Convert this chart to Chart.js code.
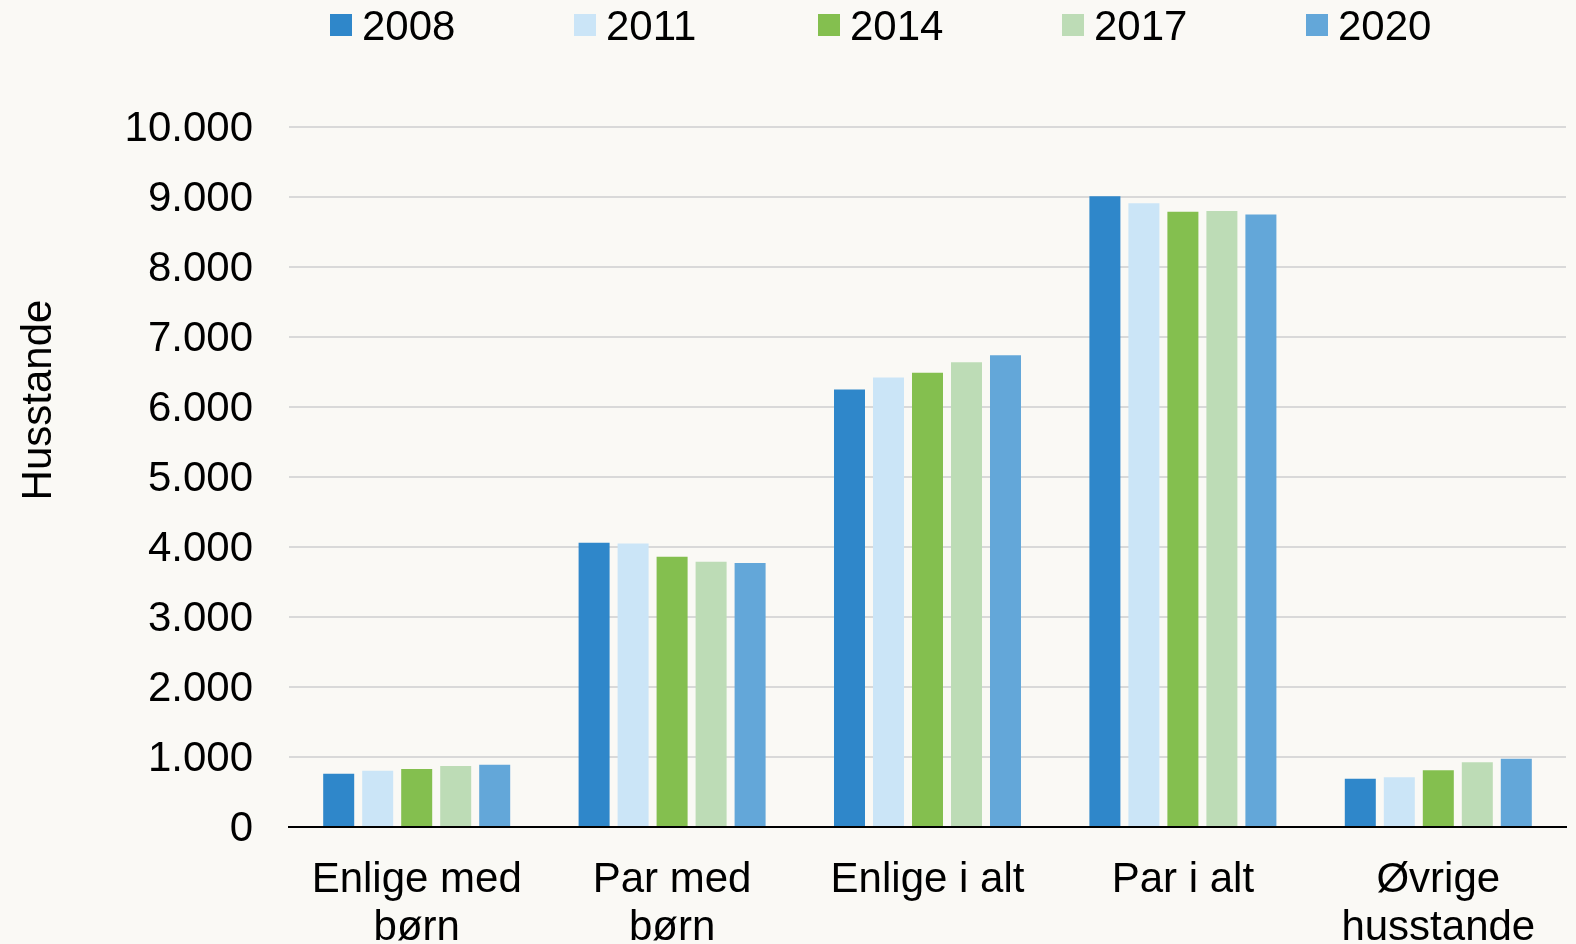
<!DOCTYPE html>
<html><head><meta charset="utf-8">
<script src="https://cdn.jsdelivr.net/npm/chart.js@4.4.1/dist/chart.umd.min.js"></script>
<style>html,body{margin:0;padding:0;background:#faf9f5;overflow:hidden}</style>
</head><body>
<canvas id="c" width="1576" height="944"></canvas>
<script>
const categories = [["Enlige med","børn"],["Par med","børn"],["Enlige i alt"],["Par i alt"],["Øvrige","husstande"]];
const seriesNames = ["2008","2011","2014","2017","2020"];
const v2008 = [760, 4060, 6250, 9010, 690];
const v2011 = [805, 4050, 6420, 8910, 710];
const v2014 = [830, 3860, 6490, 8790, 810];
const v2017 = [870, 3790, 6640, 8800, 925];
const v2020 = [890, 3770, 6740, 8750, 975];
const yTickLabels = ["0","1.000","2.000","3.000","4.000","5.000","6.000","7.000","8.000","9.000","10.000"];
const yAxisTitle = "Husstande";

const seriesValues = [v2008, v2011, v2014, v2017, v2020];
const colors = ["#2f87ca","#cbe5f7","#84bf4f","#bddcb6","#63a7d9"];
const FONT = "'Liberation Sans', Arial, sans-serif";

const bgPlugin = {
  id: 'bg',
  beforeDraw(chart) {
    const ctx = chart.ctx;
    ctx.save();
    ctx.fillStyle = '#faf9f5';
    ctx.fillRect(0, 0, chart.width, chart.height);
    ctx.restore();
  }
};

const legendAndTitlePlugin = {
  id: 'customLegend',
  afterDraw(chart) {
    const ctx = chart.ctx;
    ctx.save();
    ctx.font = "42px " + FONT;
    ctx.textBaseline = 'middle';
    ctx.textAlign = 'left';
    chart.data.datasets.forEach((ds, i) => {
      const x = 330 + i * 244;
      ctx.fillStyle = ds.backgroundColor;
      ctx.fillRect(x, 14, 22, 22);
      ctx.fillStyle = '#000';
      ctx.fillText(ds.label, x + 32, 28);
    });
    ctx.translate(39, 400);
    ctx.rotate(-Math.PI / 2);
    ctx.textAlign = 'center';
    ctx.fillText(yAxisTitle, 0, 0);
    ctx.restore();
  }
};

new Chart(document.getElementById('c'), {
  type: 'bar',
  data: {
    labels: categories,
    datasets: seriesNames.map((n, i) => ({
      label: n,
      data: seriesValues[i],
      backgroundColor: colors[i],
      borderWidth: 0,
      categoryPercentage: 0.7635,
      barPercentage: 0.795
    }))
  },
  options: {
    responsive: false,
    devicePixelRatio: 1,
    animation: false,
    layout: { padding: { top: 127, right: 10, left: 0, bottom: 0 } },
    plugins: { legend: { display: false }, tooltip: { enabled: false } },
    scales: {
      x: {
        grid: { display: false, drawTicks: false },
        border: { display: true, color: '#000', width: 2 },
        ticks: { color: '#000', font: { family: FONT, size: 42, lineHeight: 1.15 }, padding: 29, maxRotation: 0, autoSkip: false },
        afterFit(s) { s.height = 117; }
      },
      y: {
        min: 0, max: 10000,
        grid: { color: '#d9d9d9', lineWidth: 2, drawTicks: false },
        border: { display: false },
        ticks: {
          stepSize: 1000, color: '#000', padding: 36, labelOffset: 2,
          font: { family: FONT, size: 42 },
          callback: (v, i) => yTickLabels[i]
        },
        afterFit(s) { s.width = 289; }
      }
    }
  },
  plugins: [bgPlugin, legendAndTitlePlugin]
});
</script>
</body></html>
